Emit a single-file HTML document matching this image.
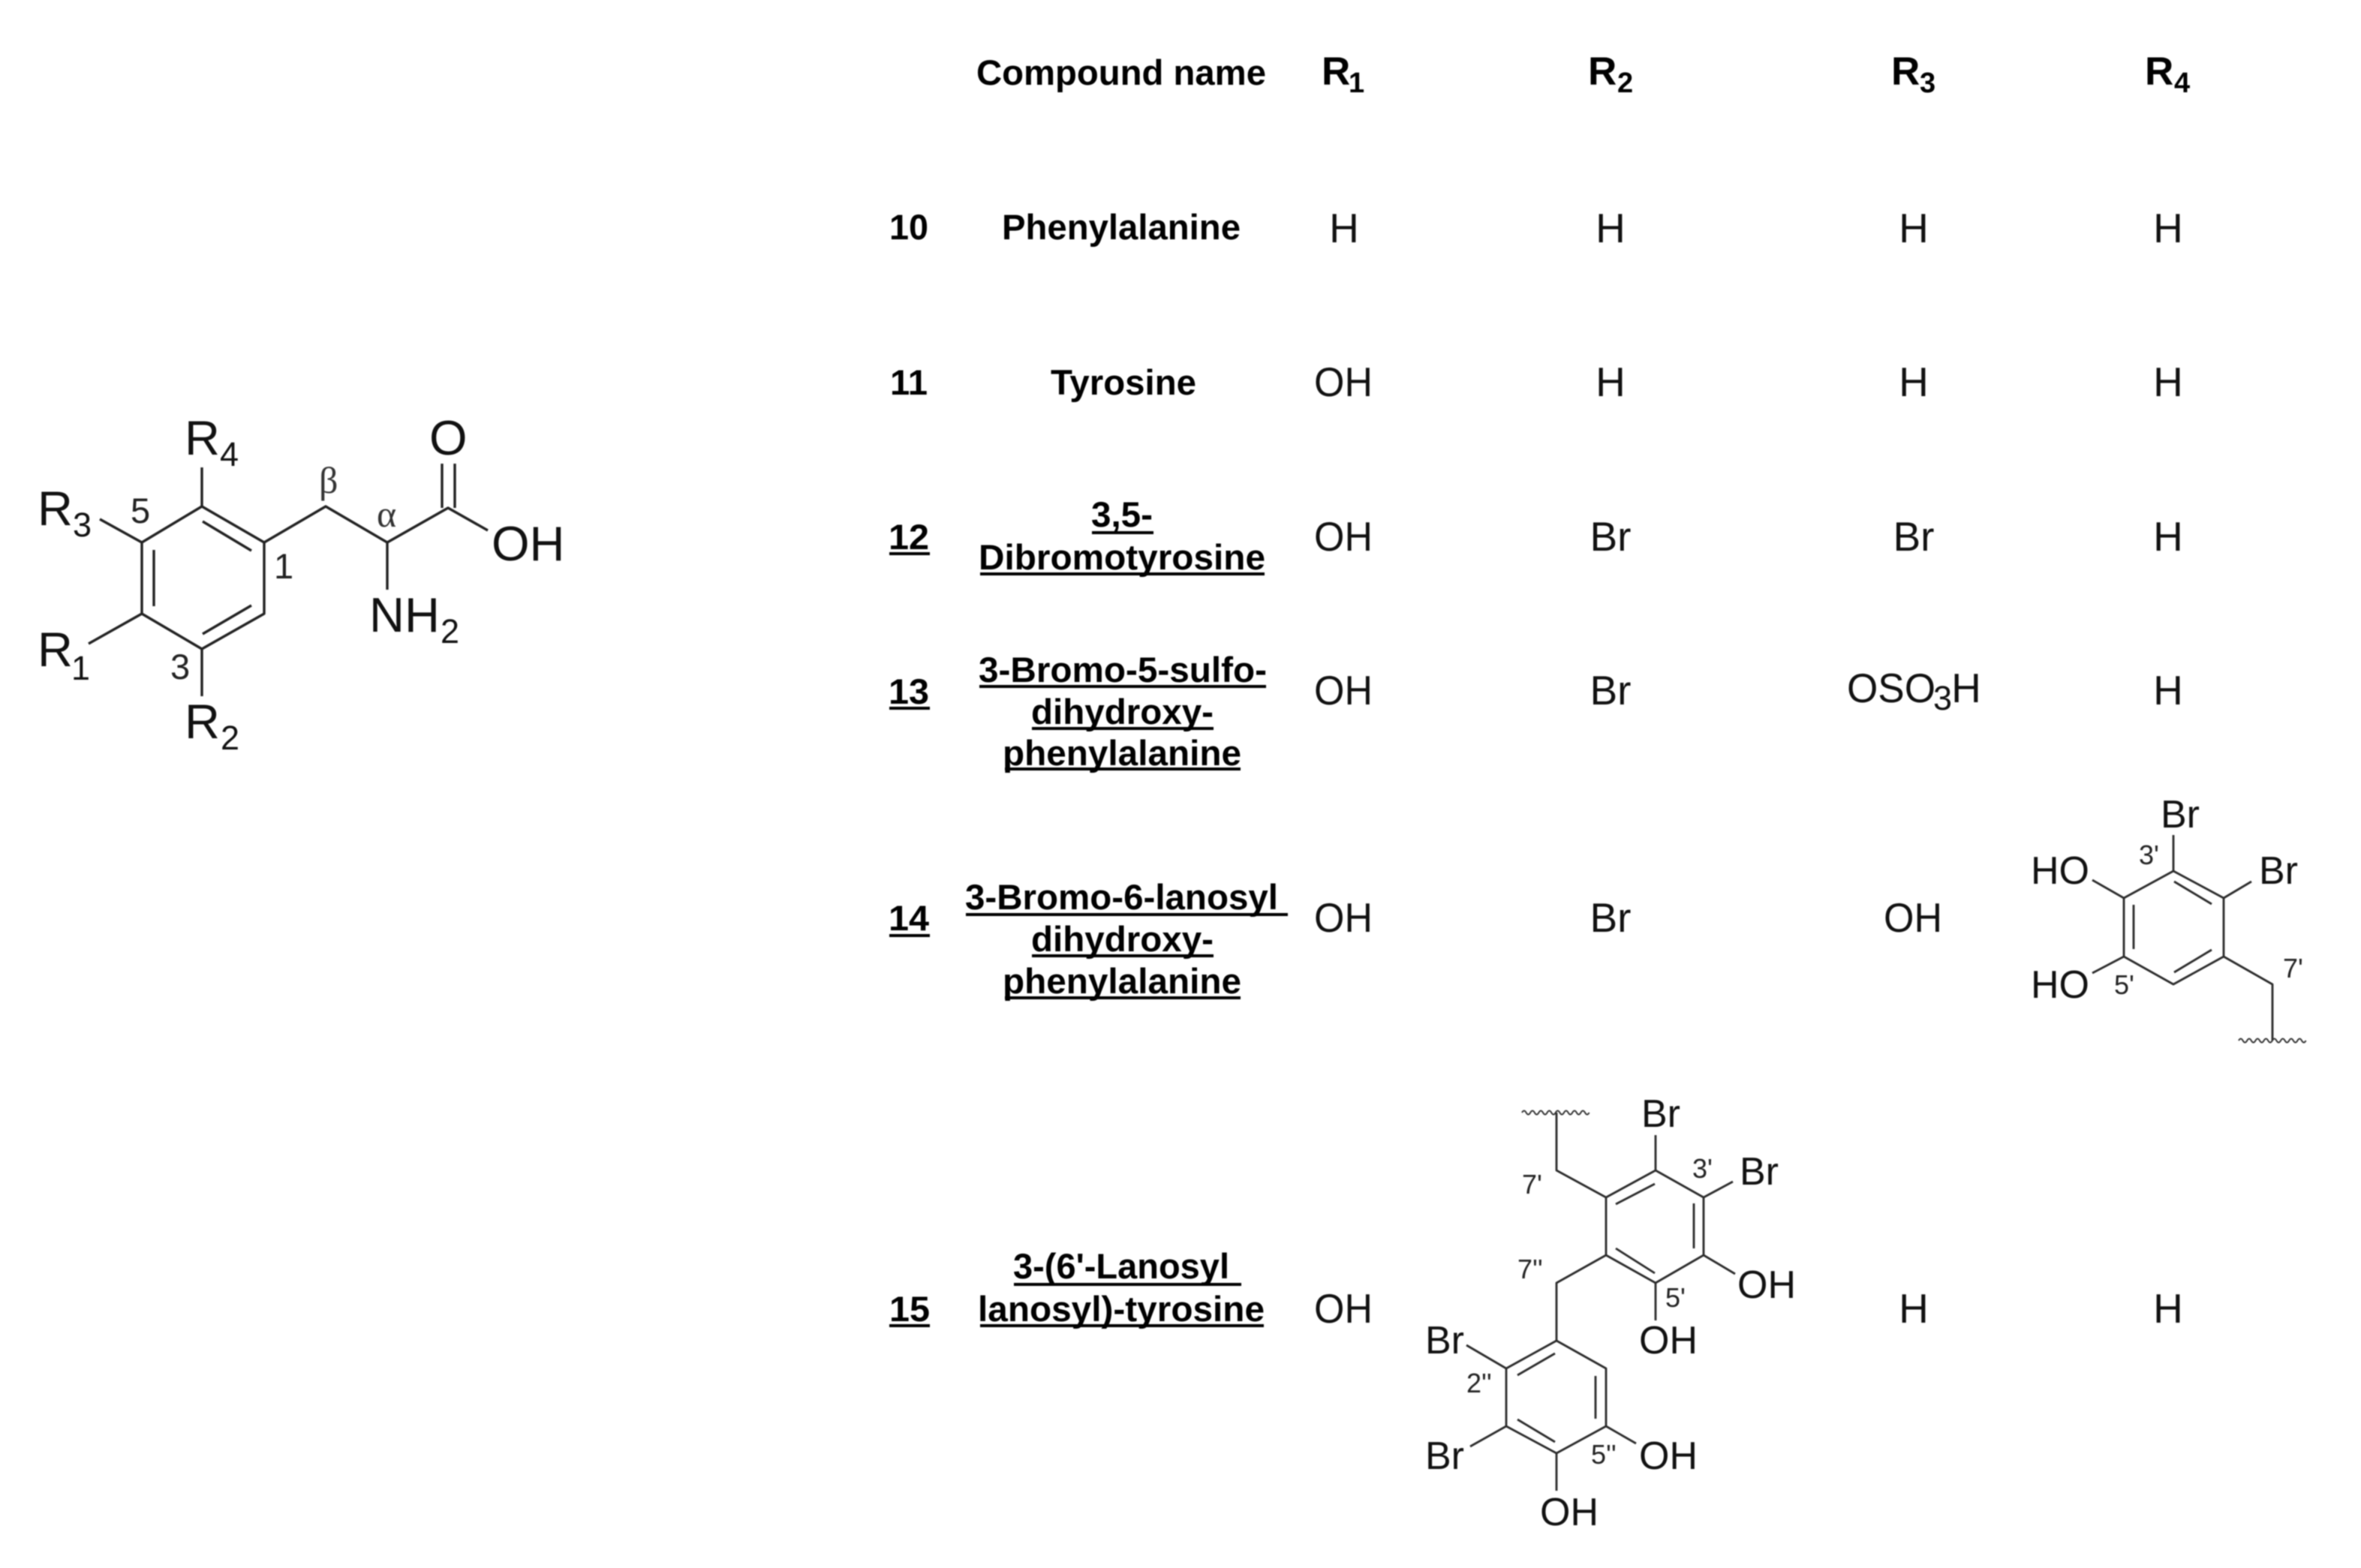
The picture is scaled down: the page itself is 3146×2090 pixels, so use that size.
<!DOCTYPE html>
<html><head><meta charset="utf-8"><style>
html,body{margin:0;padding:0;background:#fff;width:3146px;height:2090px;overflow:hidden}
svg{display:block;filter:blur(.7px)}
text{font-family:"Liberation Sans",sans-serif;fill:#111}
.b{font-weight:bold;font-size:47px;fill:#000}
.r{font-weight:bold;font-size:53px;fill:#000}
.rs{font-weight:bold;font-size:38px;fill:#000}
.v{font-size:55px;text-anchor:middle}
.s{font-size:65px}.ss{font-size:45px}.n{font-size:47px;fill:#222}
.g{font-family:"Liberation Serif",serif;font-size:50px;fill:#333}
.m{font-size:52px}.l{font-size:36px;fill:#222}
.bd{fill:none;stroke:#222;stroke-width:3.4;stroke-linejoin:round}
.bd2{fill:none;stroke:#2a2a2a;stroke-width:2.8;stroke-linejoin:round}
.u{stroke:#000;stroke-width:4}
</style></head><body>
<svg width="3146" height="2090" viewBox="0 0 3146 2090" xmlns="http://www.w3.org/2000/svg">
<rect width="3146" height="2090" fill="#fff"/>

<!-- main structure -->
<g class="bd">
<path d="M269 675L352 723V818L269 865L189 818V723Z"/>
<path d="M270 695L335 734M205 733V808M270 845L335 807"/>
<path d="M269 675V623M189 723L133 692M189 818L118 858M269 865V928"/>
<path d="M352 723L434 675L516 723L597 677L650 707M516 723V786M589 618V677M606 618V677"/>
</g>
<text class="s" x="246" y="606">R</text><text class="ss" x="293" y="621">4</text>
<text class="s" x="50" y="700">R</text><text class="ss" x="97" y="715">3</text>
<text class="s" x="50" y="888">R</text><text class="ss" x="95" y="906">1</text>
<text class="s" x="246" y="984">R</text><text class="ss" x="294" y="999">2</text>
<text class="n" x="174" y="697">5</text>
<text class="n" x="227" y="905">3</text>
<text class="n" x="365" y="771">1</text>
<text class="g" x="425" y="657">β</text>
<text class="g" x="502" y="702">α</text>
<text class="s" x="572" y="606">O</text>
<text class="s" x="655" y="747">OH</text>
<text class="s" x="492" y="842">NH</text><text class="ss" x="587" y="857">2</text>

<!-- header -->
<text class="b" x="1301" y="113" textLength="386" lengthAdjust="spacingAndGlyphs">Compound name</text>
<text class="r" x="1761" y="113">R</text><text class="rs" x="1797" y="123">1</text>
<text class="r" x="2116" y="113">R</text><text class="rs" x="2155" y="123">2</text>
<text class="r" x="2520" y="113">R</text><text class="rs" x="2558" y="123">3</text>
<text class="r" x="2858" y="113">R</text><text class="rs" x="2897" y="123">4</text>

<!-- row 10 -->
<text class="b" x="1185" y="319" textLength="52" lengthAdjust="spacingAndGlyphs">10</text>
<text class="b" x="1335" y="319" textLength="318" lengthAdjust="spacingAndGlyphs">Phenylalanine</text>
<text class="v" x="1791" y="323">H</text><text class="v" x="2146" y="323">H</text><text class="v" x="2550" y="323">H</text><text class="v" x="2889" y="323">H</text>
<!-- row 11 -->
<text class="b" x="1186" y="526" textLength="50" lengthAdjust="spacingAndGlyphs">11</text>
<text class="b" x="1400" y="526" textLength="194" lengthAdjust="spacingAndGlyphs">Tyrosine</text>
<text class="v" x="1790" y="528" textLength="78" lengthAdjust="spacingAndGlyphs">OH</text><text class="v" x="2146" y="528">H</text><text class="v" x="2550" y="528">H</text><text class="v" x="2889" y="528">H</text>
<!-- row 12 -->
<text class="b" x="1184" y="732" textLength="54" lengthAdjust="spacingAndGlyphs">12</text>
<text class="b" x="1454" y="702" textLength="82" lengthAdjust="spacingAndGlyphs">3,5-</text>
<text class="b" x="1304" y="759" textLength="382" lengthAdjust="spacingAndGlyphs">Dibromotyrosine</text>
<text class="v" x="1790" y="734" textLength="78" lengthAdjust="spacingAndGlyphs">OH</text><text class="v" x="2146" y="734">Br</text><text class="v" x="2550" y="734">Br</text><text class="v" x="2889" y="734">H</text>
<!-- row 13 -->
<text class="b" x="1184" y="938" textLength="54" lengthAdjust="spacingAndGlyphs">13</text>
<text class="b" x="1304" y="909" textLength="384" lengthAdjust="spacingAndGlyphs">3-Bromo-5-sulfo-</text>
<text class="b" x="1374" y="965" textLength="243" lengthAdjust="spacingAndGlyphs">dihydroxy-</text>
<text class="b" x="1336" y="1020" textLength="318" lengthAdjust="spacingAndGlyphs">phenylalanine</text>
<text class="v" x="1790" y="939" textLength="78" lengthAdjust="spacingAndGlyphs">OH</text><text class="v" x="2146" y="939">Br</text>
<text class="v" x="2520" y="936" textLength="118" lengthAdjust="spacingAndGlyphs">OSO</text><text class="ss" x="2576" y="946">3</text><text class="v" x="2620" y="936">H</text>
<text class="v" x="2889" y="939">H</text>
<!-- row 14 -->
<text class="b" x="1184" y="1240" textLength="54" lengthAdjust="spacingAndGlyphs">14</text>
<text class="b" x="1286" y="1212" textLength="417" lengthAdjust="spacingAndGlyphs">3-Bromo-6-lanosyl</text>
<text class="b" x="1374" y="1268" textLength="243" lengthAdjust="spacingAndGlyphs">dihydroxy-</text>
<text class="b" x="1336" y="1324" textLength="318" lengthAdjust="spacingAndGlyphs">phenylalanine</text>
<text class="v" x="1790" y="1242" textLength="78" lengthAdjust="spacingAndGlyphs">OH</text><text class="v" x="2146" y="1242">Br</text><text class="v" x="2549" y="1242" textLength="78" lengthAdjust="spacingAndGlyphs">OH</text>
<!-- row 15 -->
<text class="b" x="1185" y="1761" textLength="54" lengthAdjust="spacingAndGlyphs">15</text>
<text class="b" x="1350" y="1704" textLength="288" lengthAdjust="spacingAndGlyphs">3-(6'-Lanosyl</text>
<text class="b" x="1303" y="1761" textLength="382" lengthAdjust="spacingAndGlyphs">lanosyl)-tyrosine</text>
<text class="v" x="1790" y="1763" textLength="78" lengthAdjust="spacingAndGlyphs">OH</text><text class="v" x="2550" y="1763">H</text><text class="v" x="2889" y="1763">H</text>

<!-- underlines -->
<g class="u">
<path d="M1185 738H1239M1455 710H1537M1306 765H1685"/>
<path d="M1185 944H1239M1305 915H1687M1375 971H1617M1339 1025H1653"/>
<path d="M1185 1247H1239M1287 1219H1716M1375 1274H1617M1339 1330H1653"/>
<path d="M1185 1767H1239M1351 1712H1654M1306 1767H1684"/>
</g>

<!-- R4 substituent, row 14 -->
<g class="bd2">
<path d="M2896 1161L2963 1197V1275L2896 1312L2830 1275V1197Z"/>
<path d="M2897 1175L2947 1205M2843 1206V1265M2897 1296L2947 1266"/>
<path d="M2896 1161V1113M2963 1197L3000 1175M2830 1197L2788 1173M2830 1275L2788 1297"/>
<path d="M2963 1275L3028 1312V1387"/>
</g>
<path d="M2983 1387q2.8 -5 5.6 0t5.6 0t5.6 0t5.6 0t5.6 0t5.6 0t5.6 0t5.6 0t5.6 0t5.6 0t5.6 0t5.6 0t5.6 0t5.6 0t5.6 0t5.6 0" fill="none" stroke="#333" stroke-width="2"/>
<text class="m" x="2879" y="1103">Br</text>
<text class="m" x="3010" y="1178">Br</text>
<text class="m" x="2706" y="1178">HO</text>
<text class="m" x="2706" y="1330">HO</text>
<text class="l" x="2850" y="1152">3'</text>
<text class="l" x="2817" y="1325">5'</text>
<text class="l" x="3042" y="1303">7'</text>

<!-- R2 substituent, row 15 -->
<g class="bd2">
<path d="M2140 1596L2206 1560L2270 1596V1673L2206 1710L2140 1673Z"/>
<path d="M2153 1605L2205 1578M2257 1604V1664M2153 1664L2205 1697"/>
<path d="M2074 1483V1560L2140 1596M2206 1560V1513M2270 1596L2309 1575M2270 1673L2312 1698M2206 1710V1760"/>
<path d="M2140 1673L2074 1710V1787"/>
<path d="M2074 1787L2140 1824V1901L2074 1937L2007 1901V1824Z"/>
<path d="M2022 1833L2072 1804M2126 1834V1891M2022 1892L2072 1922"/>
<path d="M2007 1824L1954 1793M2007 1901L1959 1928M2074 1937V1987M2140 1901L2180 1924"/>
</g>
<path d="M2028 1483q2.8 -5 5.6 0t5.6 0t5.6 0t5.6 0t5.6 0t5.6 0t5.6 0t5.6 0t5.6 0t5.6 0t5.6 0t5.6 0t5.6 0t5.6 0t5.6 0t5.6 0" fill="none" stroke="#333" stroke-width="2"/>
<text class="m" x="2187" y="1502">Br</text>
<text class="m" x="2318" y="1579">Br</text>
<text class="m" x="2315" y="1730">OH</text>
<text class="m" x="2184" y="1804">OH</text>
<text class="m" x="1899" y="1804">Br</text>
<text class="m" x="1899" y="1958">Br</text>
<text class="m" x="2184" y="1958">OH</text>
<text class="m" x="2052" y="2033">OH</text>
<text class="l" x="2255" y="1570">3'</text>
<text class="l" x="2028" y="1591">7'</text>
<text class="l" x="2022" y="1704">7''</text>
<text class="l" x="2219" y="1742">5'</text>
<text class="l" x="1954" y="1856">2''</text>
<text class="l" x="2120" y="1951">5''</text>
</svg>
</body></html>
